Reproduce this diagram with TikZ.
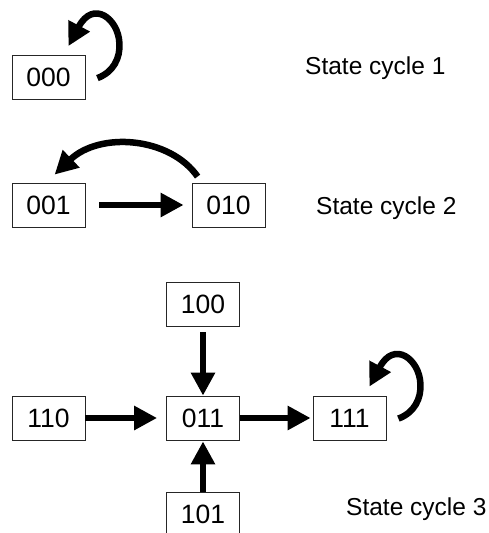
\documentclass[tikz,border=0pt]{standalone}
\usepackage{fontspec}
\setmainfont{Liberation Sans}
\usetikzlibrary{arrows.meta}
\newcommand{\myselfloop}[1]{%
  \draw[arr] ([shift={(12,23)}]#1.north east)
    .. controls ([shift={(28,17)}]#1.north east) and ([shift={(35,3)}]#1.north east)
    .. ([shift={(34,-12)}]#1.north east)
    .. controls ([shift={(33,-36)}]#1.north east) and ([shift={(8,-56)}]#1.north east)
    .. ([shift={(-17,-9)}]#1.north east);}
\begin{document}
\begin{tikzpicture}[x=1pt,y=-1pt,
  state/.style={draw=black!85, line width=0.8pt, minimum width=73pt, minimum height=44pt,
    inner sep=0pt, font=\fontsize{26.5}{30}\selectfont},
  lbl/.style={anchor=base west, inner sep=0pt, font=\fontsize{24.5}{28}\selectfont},
  arr/.style={line width=6.5pt, -{Triangle[length=23pt,width=23pt]}},
]
\useasboundingbox (0,0) rectangle (488,533);
\fill[white] (0,0) rectangle (488,533);

\node[state] (s000) at (48.5,77.5) {000};
\node[state] (s001) at (48.5,205) {001};
\node[state] (s010) at (228.5,205) {010};
\node[state] (s100) at (203,304) {100};
\node[state] (s110) at (48.5,418) {110};
\node[state] (s011) at (203,418) {011};
\node[state] (s111) at (349.5,418) {111};
\node[state] (s101) at (203,514) {101};

\node[lbl] (t1) at (305,74) {State cycle 1};
\node[lbl] (t2) at (316,214) {State cycle 2};
\node[lbl] (t3) at (346,515) {State cycle 3};

\myselfloop{s000}
\myselfloop{s111}

\draw[arr] ([xshift=14pt]s001.east) -- ([xshift=-8pt]s010.west);
\draw[arr] ([shift={(6,-6)}]s010.north west)
  .. controls ([shift={(-22,-46)}]s010.north west) and ([shift={(88,-51)}]s001.north west)
  .. ([shift={(43,-8)}]s001.north west);

\draw[arr] ([yshift=-6pt]s100.south) -- (s011.north);
\draw[arr] (s110.east) -- ([xshift=-9pt]s011.west);
\draw[arr] (s011.east) -- ([xshift=-2pt]s111.west);
\draw[arr] (s101.north) -- ([yshift=-1pt]s011.south);
\end{tikzpicture}
\end{document}
